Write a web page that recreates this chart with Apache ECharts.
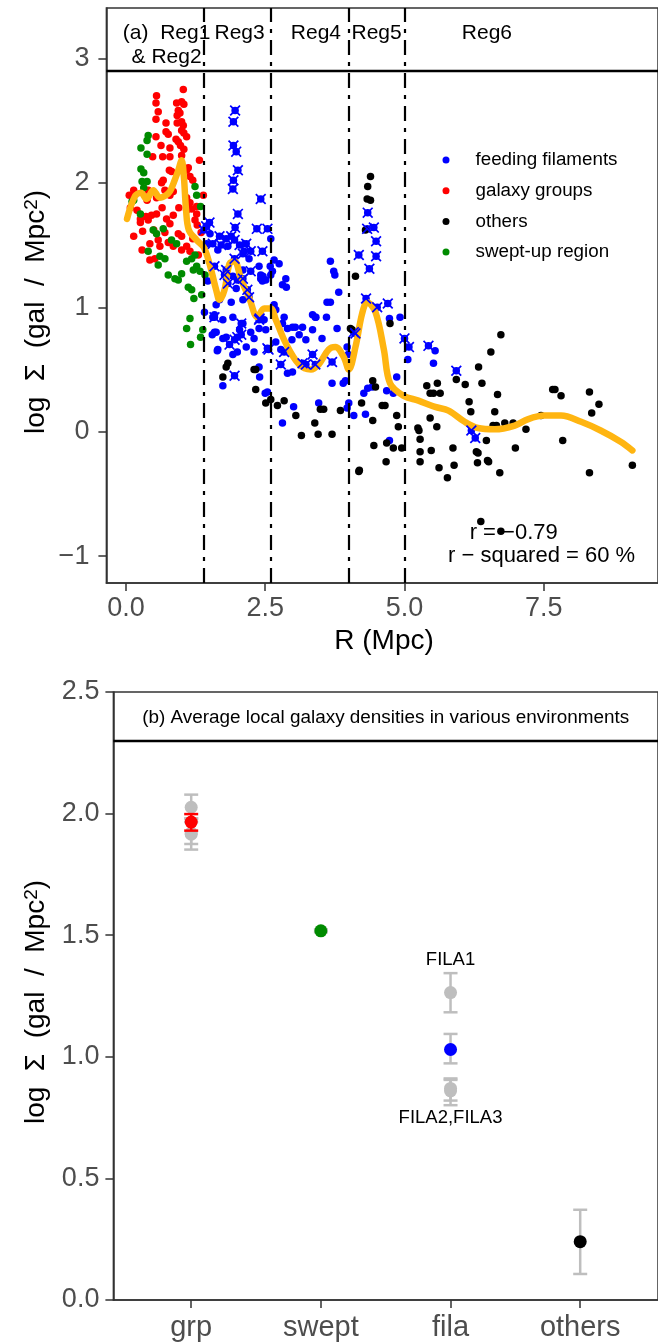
<!DOCTYPE html>
<html><head><meta charset="utf-8">
<script src="https://cdn.jsdelivr.net/npm/echarts@6/dist/echarts.min.js"></script>
<style>html,body{margin:0;padding:0;background:#fff}#c{width:658px;height:1342px}</style>
</head><body><div id="c"></div>
<script>
// ---------- Panel (a) data: [R (Mpc), log Sigma] ----------
const groupsPts = [
[1.03,2.75],[0.55,2.70],[0.54,2.64],[0.91,2.64],[1.00,2.65],[1.04,2.63],[0.58,2.57],[0.94,2.58],[0.97,2.56],[0.92,2.54],
[0.54,2.51],[0.72,2.48],[0.92,2.48],[1.00,2.49],[1.03,2.46],[0.72,2.41],[0.76,2.39],[1.00,2.42],[1.04,2.40],[0.54,2.37],
[0.90,2.35],[0.94,2.33],[1.09,2.37],[0.63,2.30],[0.79,2.28],[1.04,2.27],[0.98,2.30],[0.48,2.21],[0.66,2.21],[0.79,2.21],
[1.00,2.22],[1.32,2.18],[0.78,2.10],[0.82,2.09],[1.09,2.10],[1.12,2.12],[0.67,2.02],[0.64,2.00],[1.15,2.05],[1.20,2.02],
[0.40,1.94],[0.14,1.94],[0.70,1.94],[0.79,1.90],[0.85,1.93],[1.39,1.90],[0.38,1.86],[0.55,1.88],[1.09,1.88],[1.15,1.84],
[1.27,1.81],[0.26,1.68],[0.14,1.57],[0.30,1.61],[0.40,1.70],[0.46,1.74],[0.55,1.75],[0.73,1.71],[0.79,1.67],[0.85,1.74],
[0.94,1.59],[1.00,1.57],[0.43,1.51],[0.58,1.54],[0.61,1.49],[0.76,1.52],[0.85,1.49],[0.29,1.46],[0.43,1.38],[0.52,1.39],
[1.00,1.46],[1.09,1.49],[1.15,1.45],[1.09,1.78],[1.18,1.79],[1.27,1.75],[1.24,1.70],[1.28,1.66],[1.30,1.42],[0.26,1.71],
[0.36,1.73],[0.06,1.90],[0.08,1.80],[0.20,1.78],[0.95,1.80],[0.65,1.80],[0.50,1.62],[0.70,1.60],[1.20,1.55],[1.35,1.60]
];
const sweptPts = [
[0.40,2.38],[0.38,2.34],[0.27,2.28],[0.38,2.23],[0.27,2.11],[0.32,2.08],[0.29,2.01],[0.38,2.01],[1.24,1.97],[0.32,1.96],
[0.14,1.86],[1.27,1.90],[1.34,1.81],[0.11,1.85],[0.26,1.75],[0.49,1.62],[0.55,1.59],[0.67,1.63],[0.40,1.45],[0.61,1.41],
[0.70,1.39],[0.58,1.34],[0.82,1.54],[0.91,1.51],[1.09,1.37],[1.18,1.39],[1.24,1.42],[0.76,1.26],[0.88,1.23],[0.94,1.22],
[1.00,1.27],[1.12,1.16],[1.18,1.14],[1.21,1.30],[1.27,1.33],[1.33,1.29],[1.22,1.07],[1.36,1.10],[1.42,1.26],[1.15,0.91],
[1.09,0.83],[1.34,0.76],[1.38,0.82],[1.16,0.70]
];
const filaPts = [
[2.60,1.55],[2.66,1.38],[2.75,1.35],[2.60,1.26],[2.63,1.29],[2.87,1.23],[2.81,1.18],[2.88,1.16],[2.42,1.23],[2.45,1.21],
[2.59,1.33],[2.46,1.25],[2.51,1.22],[1.41,0.96],[1.59,0.80],[1.74,0.90],[1.92,0.92],[1.74,0.75],[1.65,0.66],[2.24,0.80],
[2.39,0.83],[2.16,0.68],[2.30,0.64],[1.92,0.62],[2.00,0.64],[2.84,0.92],[2.81,0.87],[2.90,0.83],[2.99,0.84],[3.17,0.84],
[3.11,0.78],[3.23,0.74],[2.69,0.72],[3.41,0.92],[3.35,0.82],[2.78,0.66],[3.67,1.37],[3.73,1.29],[3.75,1.26],[3.82,1.12],
[3.61,1.04],[3.67,1.04],[3.35,0.94],[3.40,0.92],[3.60,0.92],[3.79,0.83],[3.52,0.75],[2.98,0.74],[3.04,0.84],[2.99,0.48],
[2.90,0.47],[3.70,0.39],[3.97,0.68],[3.99,0.62],[3.90,0.39],[3.94,0.41],[4.27,0.31],[4.34,0.35],[4.30,0.14],[4.09,0.13],
[4.00,0.23],[3.97,0.19],[3.01,0.20],[2.81,0.07],[3.46,0.23],[2.50,0.31],[2.54,0.32],[2.39,0.52],[2.40,0.44],[1.74,0.37],
[1.64,0.65],[4.73,0.91],[4.92,0.92],[5.55,0.65],[5.52,0.55],[5.06,0.58],[4.86,0.44],[4.42,0.36],[4.68,0.33],[4.80,0.31],
[4.73,-0.07],[1.65,1.46],[1.83,1.49],[2.12,1.45],[2.21,1.39],[2.10,1.30],[1.92,1.25],[1.98,1.15],[1.68,1.06],[1.62,1.02],
[1.89,1.04],[2.10,1.06],[2.39,1.33],[2.42,1.26],[2.10,0.87],[2.04,0.82],[1.80,0.76],[2.30,0.75],[2.48,0.90],[2.51,0.82],
[2.69,0.98],[2.66,1.02],[1.45,1.65],[1.51,1.59],[1.45,1.51],[1.56,0.92],[1.55,0.78],[1.47,1.21],[1.59,0.94],[1.62,0.80]
];
const filaCrossPts = [
[1.96,2.58],[1.93,2.49],[1.93,2.30],[1.98,2.25],[2.01,2.10],[1.93,2.02],[1.92,1.95],[2.42,1.87],[2.01,1.75],[1.50,1.68],
[1.44,1.65],[1.96,1.64],[2.35,1.63],[2.54,1.63],[1.40,1.62],[1.68,1.57],[1.80,1.55],[1.89,1.57],[1.95,1.54],[1.56,1.51],
[1.71,1.50],[2.04,1.50],[2.16,1.51],[2.24,1.45],[2.45,1.45],[2.10,1.43],[1.95,1.39],[1.59,1.33],[1.80,1.30],[1.77,1.26],
[2.24,1.29],[1.83,1.19],[2.00,1.22],[2.10,1.23],[2.18,1.14],[2.21,1.08],[2.40,0.91],[1.59,0.92],[2.07,0.87],[1.95,0.74],
[2.00,0.76],[2.07,0.78],[1.86,0.70],[2.54,0.67],[2.78,0.54],[2.84,0.64],[3.17,0.55],[3.35,0.62],[3.23,0.54],[3.40,0.54],
[3.70,0.56],[4.12,0.79],[1.95,0.45],[2.56,0.66],[2.39,0.90],[4.34,1.76],[4.33,1.63],[4.45,1.64],[4.49,1.53],[4.18,1.42],
[4.49,1.41],[4.37,1.31],[4.31,1.07],[4.51,1.00],[4.70,1.03],[4.09,0.80],[5.00,0.75],[5.08,0.68],[5.43,0.69],[5.93,0.49],
[6.20,0.01],[6.27,-0.05]
];
const othersPts = [
[1.83,0.55],[1.80,0.52],[1.74,0.44],[2.30,0.50],[2.33,0.50],[2.33,0.34],[2.51,0.23],[2.60,0.26],[2.72,0.21],[2.84,0.25],
[3.05,0.13],[3.15,-0.03],[3.39,0.07],[3.45,-0.02],[3.49,0.18],[3.55,0.18],[3.70,-0.02],[3.85,0.17],[4.12,1.25],[4.06,0.82],
[4.43,0.41],[4.23,0.23],[4.43,0.09],[4.45,-0.11],[4.19,-0.31],[4.39,2.05],[4.34,1.97],[4.33,1.87],[4.39,1.86],[4.30,1.62],
[4.74,0.87],[4.03,0.83],[4.48,0.36],[4.60,0.21],[4.65,0.21],[4.86,0.13],[4.89,0.04],[4.68,-0.09],[4.80,-0.13],[4.95,-0.13],
[4.67,-0.24],[5.40,0.37],[5.46,0.31],[5.52,0.31],[5.59,0.39],[5.64,0.31],[5.46,0.11],[5.24,0.03],[5.26,0.01],[5.58,0.04],
[5.28,-0.06],[5.28,-0.16],[5.28,-0.24],[5.48,-0.15],[5.62,-0.29],[5.77,-0.37],[5.87,-0.13],[5.89,-0.27],[5.93,0.42],[6.09,0.38],
[6.16,0.24],[6.19,0.16],[6.33,0.52],[6.39,0.39],[6.55,0.64],[6.73,0.78],[6.67,0.30],[6.62,0.16],[6.59,0.05],[6.65,0.05],
[6.80,0.07],[6.95,0.07],[6.47,-0.07],[6.29,-0.16],[6.32,-0.17],[6.49,-0.23],[6.51,-0.24],[6.31,-0.25],[6.99,-0.13],[7.18,0.02],
[7.45,0.13],[7.66,0.34],[7.70,0.34],[7.81,0.29],[7.84,-0.07],[8.32,0.32],[8.36,0.15],[8.49,0.22],[8.32,-0.33],[9.09,-0.27],
[6.71,-0.33],[4.18,-0.32],[6.37,-0.72],[6.73,-0.80]
];
const smoothLine = [
[0.02,1.71],[0.16,1.89],[0.27,1.92],[0.37,1.87],[0.49,1.94],[0.61,1.88],[0.72,1.90],[0.79,1.93],[0.875,2.02],[0.94,2.10],
[1.00,2.18],[1.04,2.05],[1.08,1.78],[1.13,1.62],[1.27,1.54],[1.40,1.48],[1.50,1.35],[1.62,1.14],[1.68,1.06],[1.77,1.14],
[1.86,1.35],[1.95,1.37],[2.07,1.22],[2.21,1.08],[2.36,0.92],[2.48,0.99],[2.60,0.99],[2.69,0.90],[2.87,0.71],[3.11,0.54],
[3.32,0.50],[3.46,0.54],[3.64,0.66],[3.76,0.68],[3.91,0.60],[4.00,0.50],[4.12,0.68],[4.24,0.95],[4.33,1.04],[4.48,0.96],
[4.63,0.66],[4.74,0.39],[4.98,0.29],[5.25,0.25],[5.55,0.20],[5.79,0.17],[6.08,0.08],[6.32,0.03],[6.62,0.02],[6.98,0.05],
[7.21,0.10],[7.51,0.13],[7.81,0.13],[8.17,0.08],[8.52,0.01],[8.88,-0.08],[9.09,-0.15]
];
const regionBounds = [1.4, 2.6, 4.0, 5.0];
const stripLevelA = 2.9;
const regionLabels = [[0.73,3.107,'(a)  Reg1\n& Reg2'],[2.04,3.20,'Reg3'],[3.41,3.20,'Reg4'],[4.50,3.20,'Reg5'],[6.48,3.20,'Reg6']];
const corrLabels = [[6.96,-0.815,'r = \u22120.79'],[7.46,-0.995,'r \u2212 squared = 60 %']];
const xTicksA = [0, 2.5, 5, 7.5];
const yTicksA = [-1, 0, 1, 2, 3];
const legendNames = ['feeding filaments','galaxy groups','others','swept-up region'];

// ---------- Panel (b) data ----------
const envCats = ['grp','swept','fila','others'];
const envPos = [1, 2, 3, 4];
const envMean = [1.965, 1.518, 1.030, 0.240];
const envLow  = [1.930, 1.512, 0.973, 0.107];
const envHigh = [1.998, 1.524, 1.094, 0.371];
const subPos  = [1, 1, 1, 3, 3, 3];
const subMean = [2.026, 1.915, 1.920, 1.264, 0.870, 0.860];
const subLow  = [1.980, 1.852, 1.875, 1.183, 0.820, 0.801];
const subHigh = [2.078, 1.980, 1.965, 1.344, 0.911, 0.905];
const subLabels = [[3, 1.40, 'FILA1'], [3, 0.75, 'FILA2,FILA3']];
const panelBTitle = [[2.5, 2.393, '(b) Average local galaxy densities in various environments']];
const stripLevelB = 2.3;
const yTicksB = [0, 0.5, 1, 1.5, 2, 2.5];
const yTitleText = 'log  \u03A3  (gal  /  Mpc{s|2})';

// ---------- styling ----------
const FONT = '"Liberation Sans", Arial, Helvetica, sans-serif';
const colBlue = '#0000FF', colRed = '#FF0000', colGreen = '#008B00', colBlack = '#000000';
const colOrange = '#FFB511', colGrey = '#BEBEBE';
const envColors = [colRed, colGreen, colBlue, colBlack];
const crossPath = 'path://M0,1.1L1.1,0L5,3.9L8.9,0L10,1.1L6.1,5L10,8.9L8.9,10L5,6.1L1.1,10L0,8.9L3.9,5Z';

const chart = echarts.init(document.getElementById('c'), null, {renderer: 'canvas'});

const axisLineStyle = {color: '#333333', width: 1.5};
const tickLabelStyle = {color: '#4D4D4D', fontSize: 27, fontFamily: FONT};

function textSeries(name, arr, xi, yi, fontSize, extra) {
  return {
    name: name, type: 'scatter', xAxisIndex: xi, yAxisIndex: yi, symbolSize: 0, silent: true, z: 5,
    itemStyle: {opacity: 1},
    data: arr.map(d => ({value: [d[0], d[1]], name: d[2]})),
    label: Object.assign({show: true, position: [0, 0], align: 'center', verticalAlign: 'middle',
      formatter: p => p.name, color: '#000000', opacity: 1, fontSize: fontSize, fontFamily: FONT}, extra || {})
  };
}

function errRender(params, api) {
  const x = api.value(0), lo = api.value(1), hi = api.value(2);
  const a = api.coord([x, lo]), b = api.coord([x, hi]);
  const hw = 7;
  const style = {stroke: api.visual('color'), lineWidth: 2.5, fill: null};
  return {type: 'group', children: [
    {type: 'line', shape: {x1: a[0], y1: a[1], x2: b[0], y2: b[1]}, style: style},
    {type: 'line', shape: {x1: a[0] - hw, y1: a[1], x2: a[0] + hw, y2: a[1]}, style: style},
    {type: 'line', shape: {x1: b[0] - hw, y1: b[1], x2: b[0] + hw, y2: b[1]}, style: style}
  ]};
}

function ptSeries(name, data, color, size, z) {
  return {name: name, type: 'scatter', xAxisIndex: 0, yAxisIndex: 0, data: data, symbol: 'circle', symbolSize: size,
    itemStyle: {color: color, opacity: 1}, z: z, silent: true};
}

const option = {
  animation: false,
  backgroundColor: '#ffffff',
  textStyle: {fontFamily: FONT},
  grid: [
    {left: 106.4, top: 8, width: 554.4, height: 575, show: true, borderColor: '#333333', borderWidth: 1.5, containLabel: false},
    {left: 113.4, top: 692, width: 546.8, height: 608, show: true, borderColor: '#333333', borderWidth: 1.5, containLabel: false}
  ],
  xAxis: [
    {type: 'value', gridIndex: 0, min: -0.35, max: 9.55, splitLine: {show: false},
      axisLine: {show: true, onZero: false, lineStyle: axisLineStyle},
      axisTick: {show: true, length: 8, lineStyle: axisLineStyle, customValues: xTicksA},
      axisLabel: Object.assign({margin: 12, customValues: xTicksA, formatter: v => v.toFixed(1)}, tickLabelStyle)},
    {type: 'value', gridIndex: 1, min: 0.4, max: 4.6, splitLine: {show: false},
      axisLine: {show: true, onZero: false, lineStyle: axisLineStyle},
      axisTick: {show: true, length: 8, lineStyle: axisLineStyle, customValues: envPos},
      axisLabel: Object.assign({margin: 13, customValues: envPos, formatter: v => envCats[Math.round(v) - 1]}, tickLabelStyle, {fontSize: 29})}
  ],
  yAxis: [
    {type: 'value', gridIndex: 0, min: -1.215, max: 3.404, splitLine: {show: false},
      axisLine: {show: true, onZero: false, lineStyle: axisLineStyle},
      axisTick: {show: true, length: 8, lineStyle: axisLineStyle, customValues: yTicksA},
      axisLabel: Object.assign({margin: 17, customValues: yTicksA, formatter: v => (v < 0 ? '\u2212' + Math.abs(v) : String(v))}, tickLabelStyle)},
    {type: 'value', gridIndex: 1, min: 0, max: 2.5, splitLine: {show: false},
      axisLine: {show: true, onZero: false, lineStyle: axisLineStyle},
      axisTick: {show: true, length: 8, lineStyle: axisLineStyle, customValues: yTicksB},
      axisLabel: Object.assign({margin: 14, customValues: yTicksB, formatter: v => v.toFixed(1)}, tickLabelStyle)}
  ],
  legend: {
    orient: 'vertical', left: 437.5, top: 144, itemWidth: 7, itemHeight: 7, itemGap: 8.7,
    icon: 'circle', selectedMode: false,
    data: legendNames,
    textStyle: {fontSize: 18.8, color: '#000', fontFamily: FONT, lineHeight: 22, padding: [0, 0, 0, 21]}
  },
  graphic: [
    {type: 'text', x: 36, y: 312, rotation: Math.PI / 2, silent: true,
      style: {text: yTitleText, fontSize: 28, fontFamily: FONT, fill: '#000', align: 'center', verticalAlign: 'middle',
        rich: {s: {fontSize: 19, verticalAlign: 'top', fontFamily: FONT, fill: '#000'}}}},
    {type: 'text', x: 36, y: 1002, rotation: Math.PI / 2, silent: true,
      style: {text: yTitleText, fontSize: 28, fontFamily: FONT, fill: '#000', align: 'center', verticalAlign: 'middle',
        rich: {s: {fontSize: 19, verticalAlign: 'top', fontFamily: FONT, fill: '#000'}}}},
    {type: 'text', x: 384, y: 641, silent: true,
      style: {text: 'R (Mpc)', fontSize: 28, fontFamily: FONT, fill: '#000', align: 'center', verticalAlign: 'middle'}}
  ],
  series: [
    textSeries('regLabels', regionLabels, 0, 0, 21, {lineHeight: 24}),
    ptSeries('galaxy groups', groupsPts, colRed, 7.5, 2),
    ptSeries('swept-up region', sweptPts, colGreen, 7.5, 2),
    ptSeries('feeding filaments', filaPts.concat(filaCrossPts), colBlue, 7.5, 2),
    ptSeries('others', othersPts, colBlack, 7.5, 2),
    {name: 'smooth', type: 'line', xAxisIndex: 0, yAxisIndex: 0, data: smoothLine, showSymbol: false, symbol: 'none', smooth: 0.35,
      lineStyle: {color: colOrange, width: 6.5, cap: 'round', join: 'round'}, z: 3, silent: true},
    {name: 'filaCross', type: 'scatter', xAxisIndex: 0, yAxisIndex: 0, data: filaCrossPts, symbol: crossPath, symbolSize: 11,
      itemStyle: {color: colBlue, opacity: 1}, z: 4, silent: true},
    {name: 'guides', type: 'scatter', xAxisIndex: 0, yAxisIndex: 0, data: [], z: 6, silent: true,
      markLine: {silent: true, symbol: 'none', label: {show: false}, animation: false,
        data: regionBounds.map(v => ({xAxis: v, lineStyle: {color: '#000', width: 2.2, type: [15, 7, 4, 7], opacity: 1}}))
          .concat([{yAxis: stripLevelA, lineStyle: {color: '#000', width: 2.4, type: 'solid', opacity: 1}}])}},
    textSeries('corr', corrLabels, 0, 0, 22),
    // panel (b)
    {name: 'guidesB', type: 'scatter', xAxisIndex: 1, yAxisIndex: 1, data: [], z: 6, silent: true,
      markLine: {silent: true, symbol: 'none', label: {show: false}, animation: false,
        data: [{yAxis: stripLevelB, lineStyle: {color: '#000', width: 2.4, type: 'solid', opacity: 1}}]}},
    {name: 'subBars', type: 'custom', xAxisIndex: 1, yAxisIndex: 1, renderItem: errRender, silent: true, z: 2,
      itemStyle: {color: colGrey},
      data: subPos.map((p, i) => [p, subLow[i], subHigh[i]]).concat(envPos.slice(1).map((p, i) => [p, envLow[i + 1], envHigh[i + 1]]))},
    {name: 'subPts', type: 'scatter', xAxisIndex: 1, yAxisIndex: 1, symbol: 'circle', symbolSize: 13, silent: true, z: 3,
      itemStyle: {color: colGrey, opacity: 1}, data: subPos.map((p, i) => [p, subMean[i]])},
    {name: 'grpBar', type: 'custom', xAxisIndex: 1, yAxisIndex: 1, renderItem: errRender, silent: true, z: 4,
      itemStyle: {color: colRed}, data: [[envPos[0], envLow[0], envHigh[0]]]},
    {name: 'envPts', type: 'scatter', xAxisIndex: 1, yAxisIndex: 1, symbol: 'circle', symbolSize: 13, silent: true, z: 5,
      data: envPos.map((p, i) => ({value: [p, envMean[i]], itemStyle: {color: envColors[i], opacity: 1}}))},
    textSeries('subLabels', subLabels, 1, 1, 18.5),
    textSeries('titleB', panelBTitle, 1, 1, 18.9)
  ]
};
chart.setOption(option);
</script>
</body></html>
